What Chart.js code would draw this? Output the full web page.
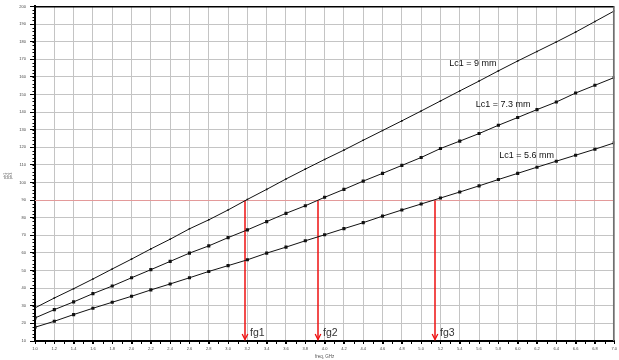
<!DOCTYPE html>
<html>
<head>
<meta charset="utf-8">
<script src="https://cdn.jsdelivr.net/npm/chart.js@4.4.1/dist/chart.umd.min.js"></script>
<style>
  html, body { margin: 0; padding: 0; background: #fff; overflow: hidden; }
  #c { display: block; }
</style>
</head>
<body>
<canvas id="c" width="619" height="360"></canvas>
<script>
// Frequency sweep points (GHz)
const freqGHz = [1.0, 1.2, 1.4, 1.6, 1.8, 2.0, 2.2, 2.4, 2.6, 2.8, 3.0,
                 3.2, 3.4, 3.6, 3.8, 4.0, 4.2, 4.4, 4.6, 4.8, 5.0,
                 5.2, 5.4, 5.6, 5.8, 6.0, 6.2, 6.4, 6.6, 6.8, 7.0];

// Phase response for each coupled-line length Lc1
const phaseLc9 = [28.8, 34.4, 39.7, 45.2, 50.9, 56.5, 62.3, 67.8, 73.7, 78.8, 84.4,
                  90.4, 96.1, 102.0, 107.6, 113.1, 118.4, 124.0, 129.5, 135.0, 140.6,
                  146.3, 152.0, 157.6, 163.4, 169.0, 174.4, 179.8, 185.4, 191.4, 197.4];
const phaseLc73 = [23.1, 27.8, 32.2, 36.9, 41.2, 45.9, 50.5, 55.2, 59.9, 64.0, 68.7,
                   73.1, 77.8, 82.5, 86.8, 91.6, 96.1, 100.8, 105.2, 109.7, 114.2,
                   119.3, 123.5, 127.8, 132.5, 136.9, 141.4, 145.7, 150.8, 155.2, 159.6];
const phaseLc56 = [17.8, 21.2, 25.0, 28.6, 32.0, 35.4, 39.0, 42.4, 45.9, 49.5, 52.8,
                   56.1, 59.9, 63.3, 66.9, 70.3, 73.8, 77.2, 80.9, 84.4, 87.8,
                   91.2, 94.6, 98.1, 101.7, 105.2, 108.7, 112.1, 115.5, 118.9, 122.5];

const curveNames = ['Lc1 = 9 mm', 'Lc1 = 7.3 mm', 'Lc1 = 5.6 mm'];
// Label anchors in data units (left edge x, middle y)
const curveLabelX = [5.29, 5.565, 5.81];
const curveLabelY = [167.8, 144.2, 115.5];

// 90-degree reference and the frequencies where each curve reaches it
const targetPhase = 90;
const fgNames = ['fg1', 'fg2', 'fg3'];
const fgFreqs = [3.18, 3.93, 5.14];

// Axis ranges and tick steps
const xMin = 1.0, xMax = 7.0, xStep = 0.2, xMinorStep = 0.1;
const yMin = 10, yMax = 200, yStep = 10, yMinorStep = 2;
const yTitleLines = ['ph1', 'ph2', 'ph3'];
const xTitle = 'freq, GHz';

Chart.defaults.font.family = '"Liberation Sans", Arial, sans-serif';

function series(vals) {
  return freqGHz.map((f, i) => ({ x: f, y: vals[i] }));
}

const overlay = {
  id: 'overlay',
  beforeDatasetsDraw(chart) {
    const { ctx, chartArea: a, scales: { x, y } } = chart;
    const y90 = Math.round(y.getPixelForValue(targetPhase)) + 0.5;
    ctx.save();
    // horizontal 90° reference
    ctx.strokeStyle = '#e39a9a';
    ctx.lineWidth = 1.2;
    ctx.beginPath();
    ctx.moveTo(a.left, y90);
    ctx.lineTo(a.right, y90);
    ctx.stroke();
    // drop lines to the frequency axis
    ctx.strokeStyle = '#ee1010';
    ctx.lineWidth = 1.5;
    fgFreqs.forEach(f => {
      const px = Math.round(x.getPixelForValue(f));
      ctx.beginPath();
      ctx.moveTo(px, y90);
      ctx.lineTo(px, a.bottom - 1.5);
      ctx.stroke();
    });
    ctx.restore();
  },
  afterDraw(chart) {
    const { ctx, chartArea: a, scales: { x, y } } = chart;
    ctx.save();
    // frame: top black, right grey
    ctx.strokeStyle = '#000';
    ctx.lineWidth = 1.5;
    ctx.beginPath();
    ctx.moveTo(a.left, a.top + 0.25);
    ctx.lineTo(a.right, a.top + 0.25);
    ctx.stroke();
    ctx.strokeStyle = '#6f6f6f';
    ctx.beginPath();
    ctx.moveTo(a.right - 0.5, a.top);
    ctx.lineTo(a.right - 0.5, a.bottom);
    ctx.stroke();

    // minor ticks
    ctx.strokeStyle = '#000';
    ctx.lineWidth = 1;
    ctx.beginPath();
    for (let v = xMin; v <= xMax + 1e-9; v += xMinorStep) {
      const px = Math.round(x.getPixelForValue(v)) + 0.5;
      ctx.moveTo(px, a.bottom);
      ctx.lineTo(px, a.bottom + 3);
    }
    for (let v = yMin; v <= yMax + 1e-9; v += yMinorStep) {
      const py = Math.round(y.getPixelForValue(v)) + 0.5;
      ctx.moveTo(a.left, py);
      ctx.lineTo(a.left - 2.5, py);
    }
    ctx.stroke();

    // arrowheads and fg labels
    const tip = a.bottom - 1.5;
    ctx.strokeStyle = '#ee1010';
    ctx.lineWidth = 1.3;
    ctx.fillStyle = '#333';
    ctx.font = '10.5px "Liberation Sans", Arial, sans-serif';
    ctx.textBaseline = 'middle';
    ctx.textAlign = 'left';
    fgFreqs.forEach((f, i) => {
      const px = Math.round(x.getPixelForValue(f));
      ctx.beginPath();
      ctx.moveTo(px - 2.8, tip - 5.5);
      ctx.lineTo(px, tip);
      ctx.lineTo(px + 2.8, tip - 5.5);
      ctx.stroke();
      ctx.fillText(fgNames[i], px + 5, a.bottom - 7.5);
    });

    // curve labels
    ctx.font = '9px "Liberation Sans", Arial, sans-serif';
    ctx.fillStyle = '#111';
    curveNames.forEach((n, i) => {
      ctx.fillText(n, x.getPixelForValue(curveLabelX[i]), y.getPixelForValue(curveLabelY[i]));
    });

    // axis titles
    ctx.fillStyle = '#555';
    ctx.font = '4.5px "Liberation Sans", Arial, sans-serif';
    ctx.textAlign = 'center';
    ctx.fillText(xTitle, (a.left + a.right) / 2, 357);
    ctx.save();
    ctx.translate(8, (a.top + a.bottom) / 2 + 2);
    ctx.rotate(-Math.PI / 2);
    ctx.font = '3.8px "Liberation Sans", Arial, sans-serif';
    yTitleLines.forEach((t, i) => ctx.fillText(t, 0, (i - 1) * 3.4));
    ctx.restore();
    ctx.restore();
  }
};

const lineStyle = {
  borderColor: '#111',
  backgroundColor: '#111',
  borderWidth: 1,
  pointStyle: 'rect',
  pointBorderWidth: 0,
  tension: 0,
  fill: false
};

new Chart(document.getElementById('c'), {
  type: 'line',
  data: {
    datasets: [
      { ...lineStyle, label: curveNames[0], data: series(phaseLc9), pointRadius: 1.1 },
      { ...lineStyle, label: curveNames[1], data: series(phaseLc73), pointRadius: 2.2 },
      { ...lineStyle, label: curveNames[2], data: series(phaseLc56), pointRadius: 2.2 }
    ]
  },
  options: {
    responsive: false,
    animation: false,
    devicePixelRatio: 1,
    events: [],
    layout: { padding: { top: 6, right: 1, left: 0, bottom: 0 }, autoPadding: false },
    plugins: { legend: { display: false }, tooltip: { enabled: false } },
    scales: {
      x: {
        type: 'linear',
        min: xMin,
        max: xMax,
        afterFit(s) { s.height = 19; },
        ticks: {
          stepSize: xStep,
          autoSkip: false,
          maxRotation: 0,
          padding: 2,
          color: '#444',
          font: { size: 4 },
          callback: v => v.toFixed(1)
        },
        grid: { color: '#c4c4c4', lineWidth: 1, tickColor: '#000', tickLength: 3, tickWidth: 1 },
        border: { color: '#000', width: 2 }
      },
      y: {
        type: 'linear',
        min: yMin,
        max: yMax,
        afterFit(s) { s.width = 35; },
        ticks: {
          stepSize: yStep,
          autoSkip: false,
          padding: 4,
          color: '#444',
          font: { size: 4 },
          callback: v => String(v)
        },
        grid: { color: '#c4c4c4', lineWidth: 1, tickColor: '#000', tickLength: 5, tickWidth: 1 },
        border: { color: '#000', width: 2 }
      }
    }
  },
  plugins: [overlay]
});
</script>
</body>
</html>
